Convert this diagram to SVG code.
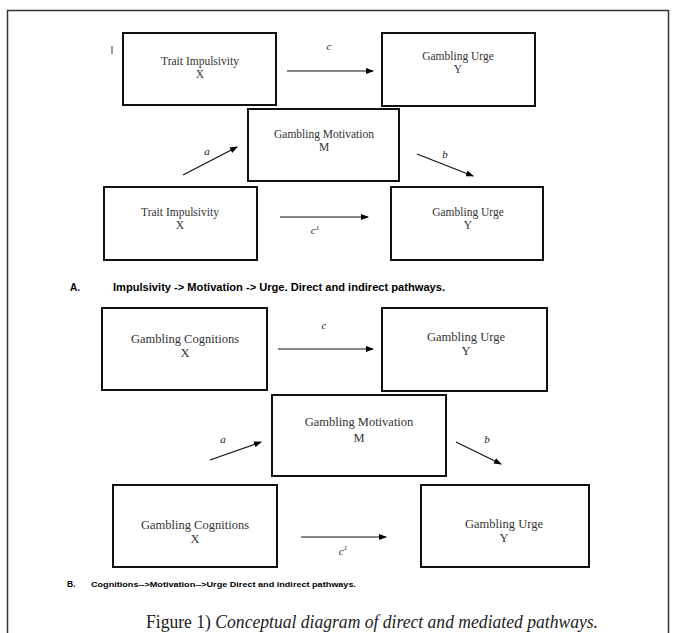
<svg xmlns="http://www.w3.org/2000/svg" width="678" height="633" viewBox="0 0 678 633">
<defs>
<marker id="ah" markerWidth="8" markerHeight="6" refX="7" refY="3" orient="auto" markerUnits="userSpaceOnUse">
<path d="M0,0 L8,3 L0,6 z" fill="#000"/>
</marker>
<style>
.box{fill:#fff;stroke:#111;stroke-width:2}
.ta{font-family:"Liberation Serif",serif;font-size:11.5px;fill:#333;text-anchor:middle}
.tb{font-family:"Liberation Serif",serif;font-size:12.5px;fill:#333;text-anchor:middle}
.lab{font-family:"Liberation Serif",serif;font-style:italic;font-size:11px;fill:#222;text-anchor:middle}
.conn line{stroke:#111;stroke-width:1.2;marker-end:url(#ah)}
.cap{font-family:"Liberation Sans",Arial,sans-serif;font-weight:bold;fill:#000}
</style>
</defs>
<rect x="7.5" y="10.5" width="661" height="640" fill="#fff" stroke="#333" stroke-width="1.5"/>
<line x1="112" y1="46" x2="112" y2="54" stroke="#333" stroke-width="1"/>

<g id="A_X1"><rect class="box" x="123" y="33" width="153" height="72"/>
<text class="ta" x="200" y="65">Trait Impulsivity</text><text class="ta" x="200" y="78">X</text></g>
<g id="A_Y1"><rect class="box" x="382" y="33" width="153" height="73"/>
<text class="ta" x="458" y="60">Gambling Urge</text><text class="ta" x="458" y="73">Y</text></g>
<g id="A_M"><rect class="box" x="248" y="109" width="151" height="72" stroke-width="1.5"/>
<text class="ta" x="324" y="138">Gambling Motivation</text><text class="ta" x="324" y="151">M</text></g>
<g id="A_X2"><rect class="box" x="104" y="187" width="153" height="73"/>
<text class="ta" x="180" y="216">Trait Impulsivity</text><text class="ta" x="180" y="229">X</text></g>
<g id="A_Y2"><rect class="box" x="391" y="187" width="152" height="73"/>
<text class="ta" x="468" y="216">Gambling Urge</text><text class="ta" x="468" y="229">Y</text></g>

<g id="B_X1"><rect class="box" x="102" y="308" width="165" height="82"/>
<text class="tb" x="185" y="343">Gambling Cognitions</text><text class="tb" x="185" y="357">X</text></g>
<g id="B_Y1"><rect class="box" x="382" y="308" width="165" height="83"/>
<text class="tb" x="466" y="341">Gambling Urge</text><text class="tb" x="466" y="355">Y</text></g>
<g id="B_M"><rect class="box" x="272" y="395" width="174" height="81"/>
<text class="tb" x="359" y="426">Gambling Motivation</text><text class="tb" x="359" y="442">M</text></g>
<g id="B_X2"><rect class="box" x="113" y="485" width="164" height="82"/>
<text class="tb" x="195" y="529">Gambling Cognitions</text><text class="tb" x="195" y="543">X</text></g>
<g id="B_Y2"><rect class="box" x="421" y="485" width="168" height="82"/>
<text class="tb" x="504" y="528">Gambling Urge</text><text class="tb" x="504" y="542">Y</text></g>

<g id="connectors" class="conn">
<line x1="287" y1="71" x2="373" y2="71"/>
<line x1="183" y1="175" x2="237" y2="147"/>
<line x1="417" y1="154" x2="473" y2="176"/>
<line x1="280" y1="217" x2="368" y2="217"/>
<line x1="278" y1="349" x2="373" y2="349"/>
<line x1="210" y1="460" x2="261" y2="442"/>
<line x1="456" y1="442" x2="501" y2="464"/>
<line x1="301" y1="537" x2="386" y2="537"/>
</g>
<g id="labels">
<text class="lab" x="329" y="50">c</text>
<text class="lab" x="207" y="155">a</text>
<text class="lab" x="445" y="158">b</text>
<text class="lab" x="315" y="234">c<tspan font-size="7" dy="-4">1</tspan></text>
<text class="lab" x="324" y="329" font-size="12">c</text>
<text class="lab" x="223" y="443" font-size="12">a</text>
<text class="lab" x="487" y="443" font-size="12">b</text>
<text class="lab" x="343" y="555" font-size="12">c<tspan font-size="7" dy="-5">1</tspan></text>
</g>

<text class="cap" x="70" y="291" font-size="10">A.</text>
<text class="cap" x="113" y="291" font-size="10" textLength="332" lengthAdjust="spacingAndGlyphs">Impulsivity -&gt; Motivation -&gt; Urge. Direct and indirect pathways.</text>
<text class="cap" x="67" y="587" font-size="8.5">B.</text>
<text class="cap" x="91" y="587" font-size="8" textLength="265" lengthAdjust="spacingAndGlyphs">Cognitions--&gt;Motivation--&gt;Urge Direct and indirect pathways.</text>

<text x="146" y="628" font-family="Liberation Serif,serif" font-size="18" fill="#222" textLength="452" lengthAdjust="spacingAndGlyphs"><tspan>Figure 1)</tspan><tspan font-style="italic"> Conceptual diagram of direct and mediated pathways.</tspan></text>
</svg>
